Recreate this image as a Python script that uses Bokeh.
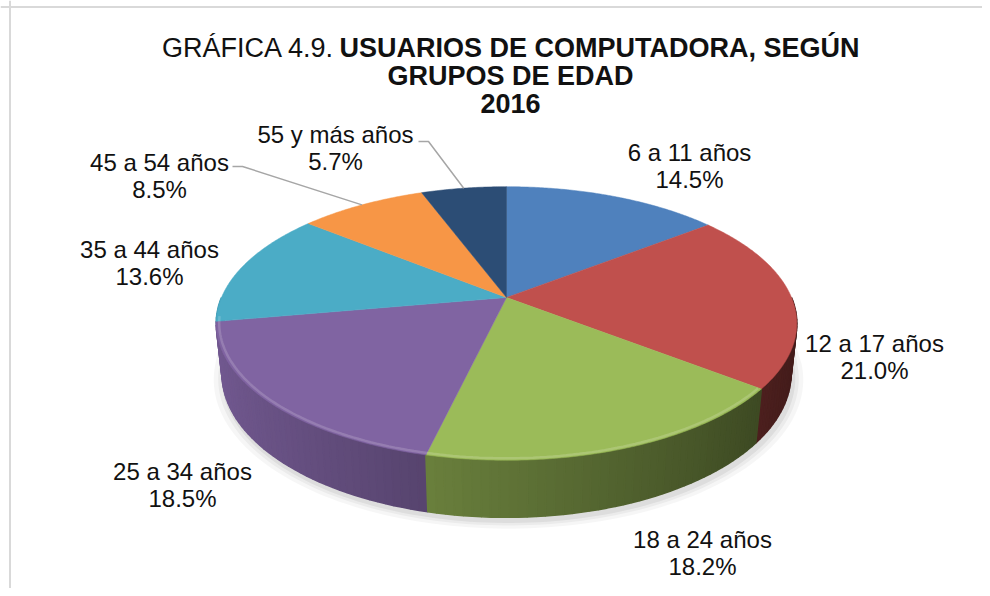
import numpy as np
from bokeh.plotting import figure
from bokeh.models import Range1d, Span
from bokeh.core.properties import value
from bokeh.embed import file_html
from bokeh.resources import INLINE

# ---------------- data ----------------
categories = ["6 a 11 años", "12 a 17 años", "18 a 24 años", "25 a 34 años",
              "35 a 44 años", "45 a 54 años", "55 y más años"]
shares = [14.5, 21.0, 18.2, 18.5, 13.6, 8.5, 5.7]
colors = ["#4f81bd", "#c0504d", "#9bbb59", "#8064a2", "#4bacc6", "#f79646", "#2c4d75"]

title_regular = "GRÁFICA 4.9."
title_bold = "USUARIOS DE COMPUTADORA, SEGÚN"
title_line2 = "GRUPOS DE EDAD"
title_line3 = "2016"

# ---------------- layout (picture pixel coordinates) ----------------
W, H = 982, 588
CX, CY = 506.0, 297.0          # pie apex
F, DIST = 1331.0, 4.67         # perspective focal / camera distance
SIN_T, COS_T = 0.4626, 0.887   # camera elevation
THICK = 0.20                   # pie thickness (radius = 1)

label_pos = [(689, 152), (874, 343), (702, 539), (182, 471),
             (149, 249), (159, 162), (335, 134)]
line_gap = 27
leader_start = {5: (232, 166), 6: (418, 141)}


def proj(theta_deg, r=1.0, yv=0.0):
    t = np.radians(theta_deg)
    X = r * np.sin(t)
    Z = r * np.cos(t)
    depth = DIST + Z * COS_T - yv * SIN_T
    vert = yv * COS_T + Z * SIN_T
    return CX + F * X / depth, CY - F * vert / depth


def hex_to_rgb(h):
    h = h.lstrip("#")
    return tuple(int(h[i:i + 2], 16) for i in (0, 2, 4))


def shade(h, f):
    r, g, b = hex_to_rgb(h)
    if f <= 1:
        return "#%02x%02x%02x" % tuple(int(max(0, min(255, c * f))) for c in (r, g, b))
    f = f - 1
    return "#%02x%02x%02x" % tuple(int(c + (255 - c) * f) for c in (r, g, b))


total = float(sum(shares))
bounds = np.concatenate([[0.0], np.cumsum(shares) / total * 360.0])

p = figure(width=W, height=H, output_backend="svg", toolbar_location=None,
           x_range=Range1d(0, W), y_range=Range1d(H, 0),
           min_border=0, outline_line_color=None, background_fill_color="white",
           border_fill_color="white")
p.axis.visible = False
p.grid.visible = False

# frame lines of the original picture
p.add_layout(Span(location=9.5, dimension="height", line_color="#d9d9d9", line_width=2))
p.add_layout(Span(location=6.5, dimension="width", line_color="#d9d9d9", line_width=2))

# soft shadow under the pie
for k, a in [(1.035, 0.035), (1.02, 0.045), (1.008, 0.06)]:
    th = np.linspace(95, 265, 120)
    sx, sy = proj(th, r=k, yv=-THICK)
    sx2, sy2 = proj(th[::-1], r=1.0, yv=-THICK * 0.5)
    p.patch(np.concatenate([sx + 2, sx2]), np.concatenate([sy + 4, sy2]),
            fill_color="#000000", fill_alpha=a, line_color=None)

# side wall made of thin quads, far ones first
quads = []
for i, (a0, a1) in enumerate(zip(bounds[:-1], bounds[1:])):
    lo, hi = max(a0, 90.0), min(a1, 270.0)
    if hi <= lo:
        continue
    n = max(2, int((hi - lo) / 1.5) + 1)
    th = np.linspace(lo, hi, n)
    for t0, t1 in zip(th[:-1], th[1:]):
        tm = 0.5 * (t0 + t1)
        fct = 0.62 - 0.28 * np.sin(np.radians(tm))
        x0, y0 = proj(t0)
        x1, y1 = proj(t1)
        x2, y2 = proj(t1, yv=-THICK)
        x3, y3 = proj(t0, yv=-THICK)
        quads.append((np.cos(np.radians(tm)), [x0, x1, x2, x3], [y0, y1, y2, y3],
                      shade(colors[i], fct)))
quads.sort(key=lambda q: -q[0])
p.patches([q[1] for q in quads], [q[2] for q in quads],
          fill_color=[q[3] for q in quads], line_color=[q[3] for q in quads],
          line_width=1.6)

# top face slices
xs, ys = [], []
for a0, a1 in zip(bounds[:-1], bounds[1:]):
    th = np.linspace(a0, a1, max(3, int(a1 - a0) * 2))
    ax, ay = proj(th)
    xs.append(np.concatenate([[CX], ax]))
    ys.append(np.concatenate([[CY], ay]))
p.patches(xs, ys, fill_color=colors, line_color=colors, line_width=0.5)

# bevel highlight along the front rim
for i, (a0, a1) in enumerate(zip(bounds[:-1], bounds[1:])):
    lo, hi = max(a0, 128.0), min(a1, 262.0)
    if hi <= lo:
        continue
    th = np.linspace(lo, hi, 60)
    hx, hy = proj(th, r=0.99)
    p.line(hx, hy, line_color=shade(colors[i], 1.3), line_width=2.5, line_alpha=0.55)

# labels
lx = [q[0] for q in label_pos]
ly = [q[1] for q in label_pos]
pct = [f"{v:.1f}%" for v in shares]
fnt = value("Liberation Sans")
p.text(x=lx, y=ly, text=categories, text_font=fnt, text_font_size="24px",
       text_align="center", text_baseline="middle", text_color="#111111")
p.text(x=lx, y=[v + line_gap for v in ly], text=pct, text_font=fnt, text_font_size="24px",
       text_align="center", text_baseline="middle", text_color="#111111")

# leader lines for the two small slices
lxs, lys = [], []
for i, (sx0, sy0) in leader_start.items():
    mid = 0.5 * (bounds[i] + bounds[i + 1])
    ex, ey = proj(mid)
    lxs.append([sx0, sx0 + 10, ex])
    lys.append([sy0, sy0, ey])
p.multi_line(lxs, lys, line_color="#a6a6a6", line_width=1.5)

# title
p.text(x=[334], y=[47], text=[title_regular], text_font=fnt, text_font_size="27px",
       text_align="right", text_baseline="middle", text_color="#111111")
p.text(x=[339], y=[47], text=[title_bold], text_font=fnt, text_font_size="27px",
       text_font_style="bold", text_align="left", text_baseline="middle", text_color="#111111")
p.text(x=[510, 510], y=[75, 103], text=[title_line2, title_line3], text_font=fnt,
       text_font_size="27px", text_font_style="bold", text_align="center",
       text_baseline="middle", text_color="#111111")

open("out.html", "w").write(file_html(p, INLINE))
